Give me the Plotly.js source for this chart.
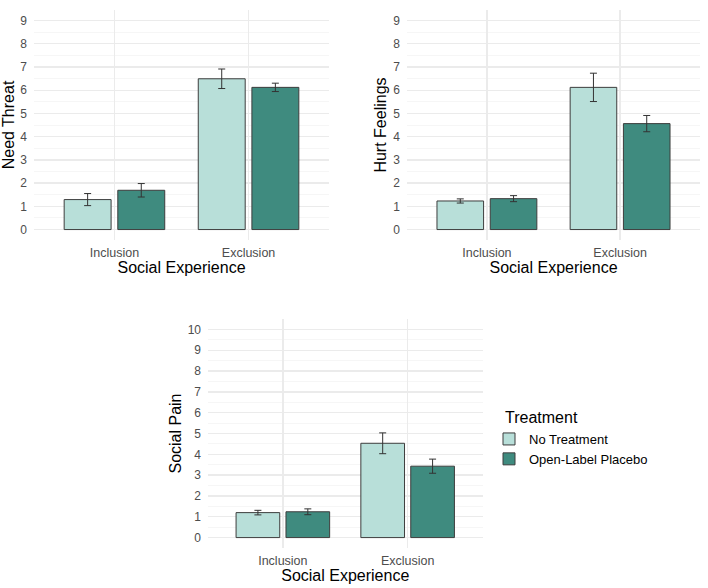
<!DOCTYPE html>
<html>
<head>
<meta charset="utf-8">
<script src="https://cdn.plot.ly/plotly-3.0.1.min.js"></script>
<style>
  html, body { margin: 0; padding: 0; background: #fff; }
  #chart { width: 708px; height: 588px; }
</style>
</head>
<body>
<div id="chart"></div>
<script>
const categories = ['Inclusion', 'Exclusion'];
const groupNames = ['No Treatment', 'Open-Label Placebo'];

// Need Threat
const needThreatNoTreatment = [1.29, 6.49];
const needThreatNoTreatmentSE = [0.26, 0.42];
const needThreatPlacebo = [1.69, 6.12];
const needThreatPlaceboSE = [0.29, 0.18];

// Hurt Feelings
const hurtNoTreatment = [1.23, 6.12];
const hurtNoTreatmentSE = [0.09, 0.61];
const hurtPlacebo = [1.33, 4.56];
const hurtPlaceboSE = [0.13, 0.35];

// Social Pain
const painNoTreatment = [1.20, 4.53];
const painNoTreatmentSE = [0.11, 0.50];
const painPlacebo = [1.24, 3.43];
const painPlaceboSE = [0.14, 0.34];

const COLORS = ['#b8dfd9', '#3f8b7f'];
const FONT = 'Liberation Sans, Arial, Helvetica, sans-serif';
const W = 708;
const H = 588;

function barTrace(name, values, se, colorIndex, axisSuffix, showlegend) {
  return {
    type: 'bar',
    name,
    x: categories,
    y: values,
    xaxis: `x${axisSuffix}`,
    yaxis: `y${axisSuffix}`,
    showlegend,
    legendgroup: name,
    marker: {
      color: COLORS[colorIndex],
      line: { color: '#3d3d3d', width: 1 },
    },
    error_y: {
      type: 'data',
      array: se,
      visible: true,
      color: '#333333',
      thickness: 1,
      width: 3.5,
    },
    hoverinfo: 'skip',
  };
}

const traces = [
  barTrace(groupNames[0], needThreatNoTreatment, needThreatNoTreatmentSE, 0, '', true),
  barTrace(groupNames[1], needThreatPlacebo, needThreatPlaceboSE, 1, '', true),
  barTrace(groupNames[0], hurtNoTreatment, hurtNoTreatmentSE, 0, '2', false),
  barTrace(groupNames[1], hurtPlacebo, hurtPlaceboSE, 1, '2', false),
  barTrace(groupNames[0], painNoTreatment, painNoTreatmentSE, 0, '3', false),
  barTrace(groupNames[1], painPlacebo, painPlaceboSE, 1, '3', false),
];

function xAxis(left, right, anchor) {
  return {
    domain: [left / W, right / W],
    anchor,
    type: 'category',
    range: [-0.6, 1.6],
    showgrid: true,
    gridcolor: '#ebebeb',
    gridwidth: 1.3,
    zeroline: false,
    showline: false,
    ticks: '',
    ticklabelstandoff: 3,
    tickfont: { family: FONT, size: 12.5, color: '#4d4d4d' },
    title: {
      text: 'Social Experience',
      standoff: 3,
      font: { family: FONT, size: 16, color: '#000' },
    },
  };
}

function yAxis(top, bottom, anchor, maxVal, title, standoff) {
  const pad = maxVal * 0.05;
  return {
    domain: [1 - bottom / H, 1 - top / H],
    anchor,
    range: [-pad, maxVal + pad],
    tickmode: 'linear',
    tick0: 0,
    dtick: 1,
    showgrid: true,
    gridcolor: '#ebebeb',
    gridwidth: 1.3,
    minor: {
      dtick: 0.5,
      tick0: 0,
      showgrid: true,
      gridcolor: '#f4f4f4',
      gridwidth: 0.8,
    },
    zeroline: false,
    showline: false,
    ticks: '',
    ticklabelstandoff: 6,
    tickfont: { family: FONT, size: 12, color: '#4d4d4d' },
    title: {
      text: title,
      standoff,
      font: { family: FONT, size: 16, color: '#000' },
    },
  };
}

const layout = {
  width: W,
  height: H,
  margin: { l: 0, r: 0, t: 0, b: 0 },
  paper_bgcolor: '#fff',
  plot_bgcolor: '#fff',
  barmode: 'group',
  bargap: 0.2,
  bargroupgap: 0.125,
  font: { family: FONT, color: '#000' },
  xaxis: xAxis(34, 329, 'y'),
  yaxis: yAxis(10, 240, 'x', 9, 'Need Threat', 6),
  xaxis2: xAxis(407, 700, 'y2'),
  yaxis2: yAxis(10, 240, 'x2', 9, 'Hurt Feelings', 2),
  xaxis3: xAxis(208, 482.5, 'y3'),
  yaxis3: yAxis(319, 548, 'x3', 10, 'Social Pain', 2),
  legend: {
    x: 489 / W,
    y: 1 - 424 / H,
    xanchor: 'left',
    yanchor: 'top',
    tracegroupgap: 0,
    itemwidth: 30,
    font: { family: FONT, size: 13, color: '#000' },
    bgcolor: 'rgba(0,0,0,0)',
  },
  annotations: [{
    text: 'Treatment',
    xref: 'paper',
    yref: 'paper',
    x: 503 / W,
    y: 1 - 417 / H,
    xanchor: 'left',
    yanchor: 'middle',
    showarrow: false,
    font: { family: FONT, size: 16, color: '#000' },
  }],
  showlegend: true,
};

Plotly.newPlot('chart', traces, layout, { displayModeBar: false, staticPlot: true });
</script>
</body>
</html>
